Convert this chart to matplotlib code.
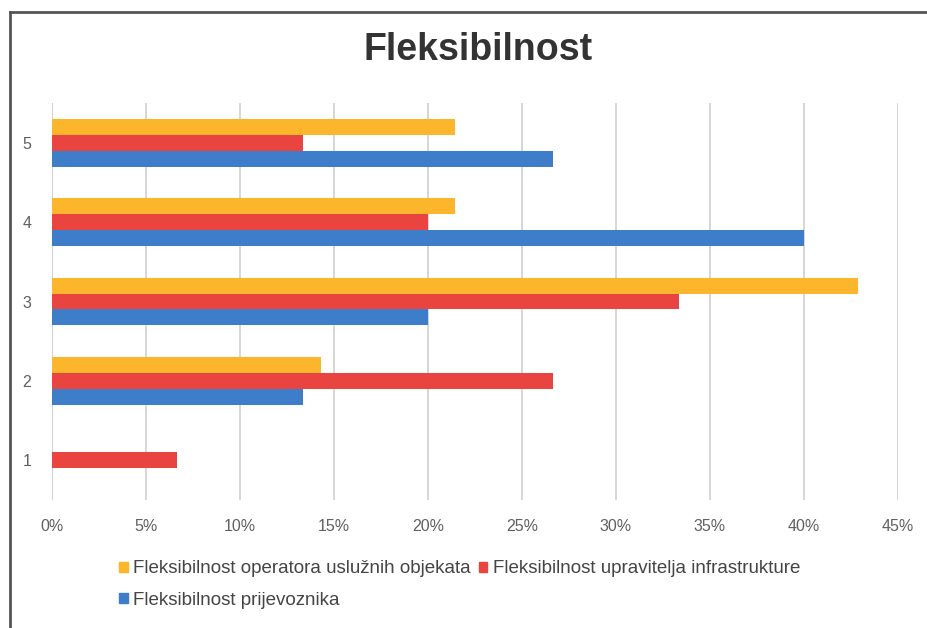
import matplotlib
matplotlib.use("Agg")
import matplotlib.pyplot as plt
from matplotlib.lines import Line2D
from matplotlib.patches import Patch
import numpy as np

plt.rcParams['font.family'] = ['Liberation Sans', 'DejaVu Sans']

categories = ["1", "2", "3", "4", "5"]
prijevoznika = [0.0, 13.33, 20.0, 40.0, 26.67]
upravitelja = [6.67, 26.67, 33.33, 20.0, 13.33]
operatora = [0.0, 14.29, 42.86, 21.43, 21.43]
series_names = ["Fleksibilnost operatora uslužnih objekata",
                "Fleksibilnost upravitelja infrastrukture",
                "Fleksibilnost prijevoznika"]
xticks = [0, 5, 10, 15, 20, 25, 30, 35, 40, 45]

c_yellow = "#FDB52B"
c_red = "#EA4440"
c_blue = "#3E7DCA"

fig = plt.figure(figsize=(9.27, 6.28), dpi=100)
ax = fig.add_axes([52/927, 1-500/628, (898-52)/927, (500-103)/628])

y = np.arange(1, len(categories)+1)
h = 0.2
ax.barh(y - h, prijevoznika, height=h, color=c_blue)
ax.barh(y, upravitelja, height=h, color=c_red)
ax.barh(y + h, operatora, height=h, color=c_yellow)

ax.set_ylim(0.5, 5.5)
ax.set_xlim(0, 45)
ax.set_yticks(y)
ax.set_yticklabels(categories)
ax.set_xticks(xticks)
ax.set_xticklabels([f"{t}%" for t in xticks])
ax.tick_params(axis='both', colors="#606060", labelsize=11.5, length=0, pad=14)
ax.tick_params(axis='y', pad=15)
ax.grid(axis='x', color="#d0d0d0", linewidth=1.2)
ax.set_axisbelow(True)
for s in ax.spines.values():
    s.set_visible(False)
ax.axvline(0, color="#d0d0d0", linewidth=1.2, zorder=0)

fig.text(478/927, 1-50/628, "Fleksibilnost", ha='center', va='center',
         fontsize=27, fontweight='bold', color="#333333")

handles = [Patch(color=c_yellow), Patch(color=c_blue), Patch(color=c_red)]
labels = [series_names[0], series_names[2], series_names[1]]
fig.legend(handles, labels, ncol=2, loc='upper left',
           bbox_to_anchor=(110/927, 1-551/628), frameon=False,
           fontsize=13.5, labelcolor="#454545", handlelength=0.45,
           handleheight=0.45, handletextpad=0.3, columnspacing=0.4,
           labelspacing=0.78, borderpad=0)

fig.add_artist(Line2D([10/927, 1], [1-12/628, 1-12/628], color="#555555", linewidth=2))
fig.add_artist(Line2D([10/927, 10/927], [0, 1-12/628], color="#555555", linewidth=2))

fig.savefig("out.png", dpi=100)
